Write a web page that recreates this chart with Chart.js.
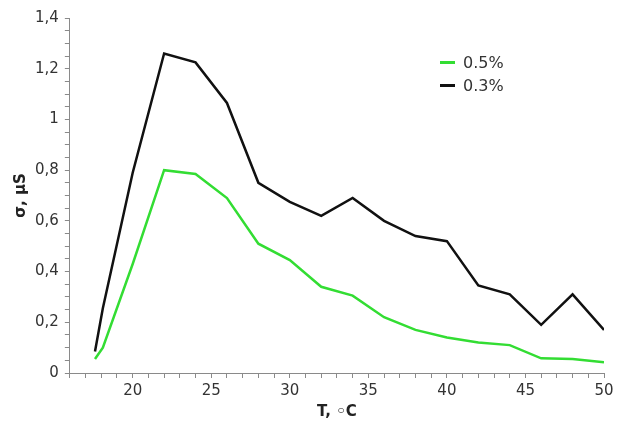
<!DOCTYPE html>
<html>
<head>
<meta charset="utf-8">
<script src="https://cdn.jsdelivr.net/npm/chart.js@4.4.1/dist/chart.umd.min.js"></script>
<style>
    html, body { margin: 0; padding: 0; background: #fff; }
    #wrap { position: relative; width: 620px; height: 421px; }
    #legend { position: absolute; left: 440px; top: 51px; font: 16px "DejaVu Sans", sans-serif; color: #333; }
    .item { display: flex; align-items: center; height: 23px; }
    .swatch { width: 15px; height: 3px; margin-right: 8px; }
</style>
</head>
<body>
<div id="wrap">
    <canvas id="sigmaChart" width="620" height="421"></canvas>
    <div id="legend"></div>
</div>
<script>
// temperature, deg C
const temps = [17.6, 18.1, 20, 22, 24, 26, 28, 30, 32, 34, 36, 38, 40, 42, 44, 46, 48, 50];
// sigma, uS
const sigma05 = [0.055, 0.10, 0.43, 0.80, 0.785, 0.69, 0.51, 0.445, 0.34, 0.305, 0.22, 0.17, 0.14, 0.12, 0.11, 0.058, 0.055, 0.042];
const sigma03 = [0.085, 0.255, 0.79, 1.26, 1.225, 1.065, 0.75, 0.675, 0.62, 0.69, 0.60, 0.54, 0.52, 0.345, 0.31, 0.19, 0.31, 0.17];
const seriesNames = ["0.5%", "0.3%"];
const seriesColors = ["#33dd33", "#111111"];

const xMajorTicks = [20, 25, 30, 35, 40, 45, 50];
const yMajorTicks = [0, 0.2, 0.4, 0.6, 0.8, 1, 1.2, 1.4];
const yTickLabels = ["0", "0,2", "0,4", "0,6", "0,8", "1", "1,2", "1,4"];

function toPoints(xs, ys) {
    return xs.map((x, i) => ({ x: x, y: ys[i] }));
}

function minorTicks(min, max, step) {
    const ticks = [];
    const n = Math.round((max - min) / step);
    for (let i = 0; i <= n; i++) {
        ticks.push({ value: Math.round((min + i * step) * 1000) / 1000 });
    }
    return ticks;
}

const axisColor = "#8a8a8a";
const tickFont = { family: "DejaVu Sans", size: 15, lineHeight: 1 };
const titleFont = { family: "DejaVu Sans", size: 15, weight: "bold", lineHeight: 1 };

new Chart(document.getElementById("sigmaChart"), {
    type: "line",
    data: {
        datasets: [
            {
                label: seriesNames[1],
                data: toPoints(temps, sigma03),
                borderColor: seriesColors[1],
                borderWidth: 2.5,
                pointRadius: 0,
                tension: 0
            },
            {
                label: seriesNames[0],
                data: toPoints(temps, sigma05),
                borderColor: seriesColors[0],
                borderWidth: 2.5,
                pointRadius: 0,
                tension: 0
            }
        ]
    },
    options: {
        responsive: false,
        animation: false,
        layout: { padding: { top: 18, right: 16, left: 14, bottom: 1 } },
        plugins: {
            legend: { display: false },
            tooltip: { enabled: false }
        },
        scales: {
            x: {
                type: "linear",
                min: 16,
                max: 50,
                afterBuildTicks: scale => { scale.ticks = minorTicks(16, 50, 1); },
                ticks: {
                    autoSkip: false,
                    maxRotation: 0,
                    color: "#333",
                    font: tickFont,
                    padding: 6,
                    callback: v => xMajorTicks.includes(v) ? String(v) : ""
                },
                grid: {
                    drawOnChartArea: false,
                    tickLength: 5,
                    tickColor: axisColor
                },
                border: { color: axisColor, width: 1 },
                title: {
                    display: true,
                    text: "T, \u25E6C",
                    color: "#222",
                    font: titleFont,
                    padding: { top: 0, bottom: 0 }
                }
            },
            y: {
                min: 0,
                max: 1.4,
                afterBuildTicks: scale => { scale.ticks = minorTicks(0, 1.4, 0.05); },
                ticks: {
                    autoSkip: false,
                    color: "#333",
                    font: tickFont,
                    padding: 6,
                    callback: v => {
                        const i = yMajorTicks.findIndex(m => Math.abs(m - v) < 1e-6);
                        return i >= 0 ? yTickLabels[i] : "";
                    }
                },
                grid: {
                    drawOnChartArea: false,
                    tickLength: 5,
                    tickColor: axisColor
                },
                border: { color: axisColor, width: 1 },
                title: {
                    display: true,
                    text: "\u03C3, \u03BCS",
                    color: "#222",
                    font: titleFont,
                    padding: { top: 0, bottom: 0 }
                }
            }
        }
    }
});

const legend = document.getElementById("legend");
seriesNames.forEach((name, i) => {
    const item = document.createElement("div");
    item.className = "item";
    item.innerHTML = '<span class="swatch" style="background:' + seriesColors[i] + '"></span>' + name;
    legend.appendChild(item);
});
</script>
</body>
</html>
